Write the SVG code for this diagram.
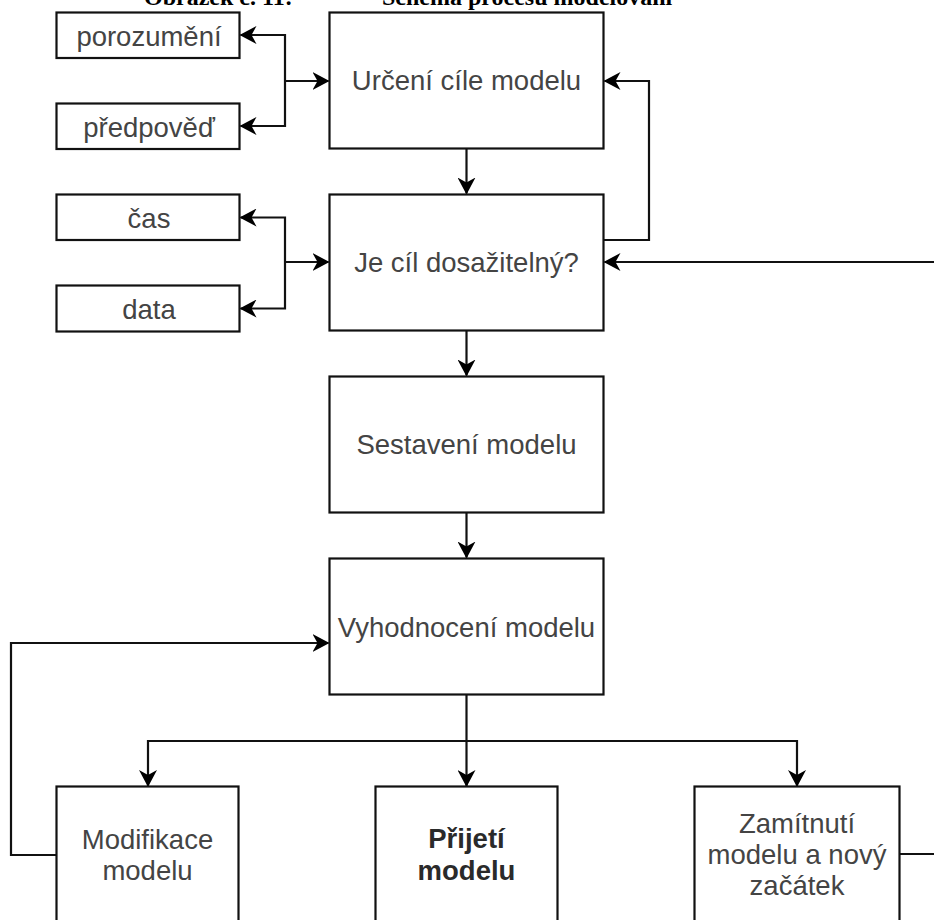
<svg xmlns="http://www.w3.org/2000/svg" width="934" height="920" viewBox="0 0 934 920">
  <style>
    .box { fill: #ffffff; stroke: #111111; stroke-width: 2.2; }
    .lbl { font-family: "Liberation Sans", Arial, sans-serif; font-size: 27.5px; fill: #444444; text-anchor: middle; }
    .bold { font-weight: bold; fill: #2a2a2a; }
    .edge { fill: none; stroke: #111111; stroke-width: 2.2; }
    .arr { marker-end: url(#head); }
    .title { font-family: "Liberation Serif", "Times New Roman", serif; font-size: 24px; font-weight: bold; fill: #000000; }
  </style>
  <defs>
    <marker id="head" viewBox="0 0 17 18" refX="16" refY="9" markerWidth="17" markerHeight="18" markerUnits="userSpaceOnUse" orient="auto">
      <path d="M0,0 L17,9 L0,18 L5,9 Z" fill="#000000"/>
    </marker>
  </defs>

  <rect width="934" height="920" fill="#ffffff"/>

  <!-- caption, clipped by the top edge -->
  <text class="title" x="144" y="5">Obrázek č. 11:</text>
  <text class="title" x="382" y="5">Schéma procesu modelování</text>

  <!-- connectors -->
  <g id="connectors">
    <path class="edge arr" d="M285,81 H328.5"/>
    <path class="edge arr" d="M285,81 V35 H240.5"/>
    <path class="edge arr" d="M285,81 V126 H240.5"/>
    <path class="edge arr" d="M285,262 H328.5"/>
    <path class="edge arr" d="M285,262 V217.5 H240.5"/>
    <path class="edge arr" d="M285,262 V308.5 H240.5"/>
    <path class="edge arr" d="M466.5,148.5 V193.5"/>
    <path class="edge arr" d="M603.5,240 H649 V81 H604.5"/>
    <path class="edge arr" d="M934,262 H604.5"/>
    <path class="edge arr" d="M466.5,330.5 V375.5"/>
    <path class="edge arr" d="M466.5,512.5 V557.5"/>
    <path class="edge arr" d="M466.5,694.5 V786"/>
    <path class="edge arr" d="M466.5,741 H148 V786"/>
    <path class="edge arr" d="M466.5,741 H797 V786"/>
    <path class="edge arr" d="M56.5,855 H11 V643 H328.5"/>
    <path class="edge" d="M900,854 H934"/>
  </g>

  <g id="porozumeni">
    <rect class="box" x="56.5" y="12.5" width="183" height="45.5"/>
    <text class="lbl" x="149" y="46">porozumění</text>
  </g>
  <g id="predpoved">
    <rect class="box" x="56.5" y="103.5" width="183" height="45.5"/>
    <text class="lbl" x="149" y="137">předpověď</text>
  </g>
  <g id="cas">
    <rect class="box" x="56.5" y="194.5" width="183" height="45.5"/>
    <text class="lbl" x="149" y="228">čas</text>
  </g>
  <g id="data">
    <rect class="box" x="56.5" y="285.5" width="183" height="46"/>
    <text class="lbl" x="149" y="319">data</text>
  </g>

  <g id="urceni-cile">
    <rect class="box" x="329.5" y="12.5" width="274" height="136"/>
    <text class="lbl" x="466.5" y="90">Určení cíle modelu</text>
  </g>
  <g id="dosazitelnost">
    <rect class="box" x="329.5" y="194.5" width="274" height="136"/>
    <text class="lbl" x="466.5" y="272">Je cíl dosažitelný?</text>
  </g>
  <g id="sestaveni">
    <rect class="box" x="329.5" y="376.5" width="274" height="136"/>
    <text class="lbl" x="466.5" y="454">Sestavení modelu</text>
  </g>
  <g id="vyhodnoceni">
    <rect class="box" x="329.5" y="558.5" width="274" height="136"/>
    <text class="lbl" x="466.5" y="636.5">Vyhodnocení modelu</text>
  </g>

  <g id="modifikace">
    <rect class="box" x="56.5" y="786.5" width="182" height="160"/>
    <text class="lbl" x="147.5" y="849">Modifikace</text>
    <text class="lbl" x="147.5" y="880">modelu</text>
  </g>
  <g id="prijeti">
    <rect class="box" x="375.5" y="786.5" width="182" height="160"/>
    <text class="lbl bold" x="466.5" y="848">Přijetí</text>
    <text class="lbl bold" x="466.5" y="880">modelu</text>
  </g>
  <g id="zamitnuti">
    <rect class="box" x="694.5" y="786.5" width="205" height="160"/>
    <text class="lbl" x="797" y="833">Zamítnutí</text>
    <text class="lbl" x="797" y="864">modelu a nový</text>
    <text class="lbl" x="797" y="895">začátek</text>
  </g>
</svg>
